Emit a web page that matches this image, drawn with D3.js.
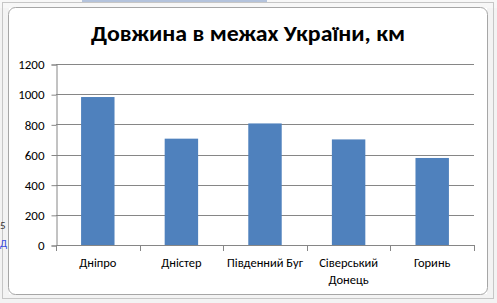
<!DOCTYPE html>
<html>
<head>
<meta charset="utf-8">
<script src="https://cdn.jsdelivr.net/npm/d3@7"></script>
<style>
  body { margin: 0; background: #fff; }
  svg { display: block; }
  .tick text { font-family: Carlito, Calibri, Lato, sans-serif; }
</style>
</head>
<body>
<svg id="chart" width="497" height="303"></svg>
<script>
// data
const categories = ["Дніпро", "Дністер", "Південний Буг", "Сіверський Донець", "Горинь"];
const categoryLines = [["Дніпро"], ["Дністер"], ["Південний Буг"], ["Сіверський", "Донець"], ["Горинь"]];
const lengths = [981, 705, 806, 700, 577];
const yTicks = [0, 200, 400, 600, 800, 1000, 1200];
const title = "Довжина в межах України, км";

const width = 497, height = 303;
const margin = { top: 64, right: 23, bottom: 58, left: 56 };

const svg = d3.select("#chart");

// spreadsheet behind the chart
const sheet = svg.append("g");
sheet.append("rect").attr("x", 0).attr("y", 0).attr("width", 9).attr("height", height).attr("fill", "#f3f3f3");
sheet.append("rect").attr("x", 487).attr("y", 0).attr("width", 10).attr("height", height).attr("fill", "#f3f3f3");
sheet.append("rect").attr("x", 0).attr("y", 294).attr("width", width).attr("height", 9).attr("fill", "#f3f3f3");
sheet.append("rect").attr("x", 0).attr("y", 0).attr("width", width).attr("height", 8).attr("fill", "#f7f7f7");
sheet.append("rect").attr("x", 82).attr("y", 0).attr("width", 185).attr("height", 2).attr("fill", "#b4c3dc");
sheet.append("rect")
  .attr("x", 2.5).attr("y", 2.5).attr("width", 491).attr("height", 296)
  .attr("fill", "none").attr("stroke", "#c6c6c6");
sheet.append("text").attr("x", 0).attr("y", 229).attr("font-family", "Carlito, Calibri, Lato, sans-serif")
  .attr("font-size", 11).attr("fill", "#333").text("5");
sheet.append("text").attr("x", 0).attr("y", 247).attr("font-family", "Carlito, Calibri, Lato, sans-serif")
  .attr("font-size", 11).attr("fill", "#3a4ee0").attr("text-decoration", "underline").text("Д");

// chart area
svg.append("rect")
  .attr("x", 8.5).attr("y", 7.5).attr("width", 479).attr("height", 287).attr("rx", 7)
  .attr("fill", "#fff").attr("stroke", "#a6a6a6");

// title
svg.append("text")
  .attr("x", 248).attr("y", 41)
  .attr("text-anchor", "middle")
  .attr("font-family", "Carlito, Calibri, Lato, sans-serif")
  .attr("font-weight", "bold")
  .attr("font-size", 23)
  .attr("textLength", 314)
  .attr("lengthAdjust", "spacingAndGlyphs")
  .text(title);

// scales
const x = d3.scaleBand()
  .domain(categories)
  .range([margin.left, width - margin.right])
  .paddingInner(0.6)
  .paddingOuter(0.3);

const y = d3.scaleLinear()
  .domain([0, 1200])
  .range([height - margin.bottom, margin.top]);

// gridlines
svg.append("g")
  .selectAll("line")
  .data(yTicks.filter(d => d > 0))
  .join("line")
  .attr("x1", margin.left).attr("x2", width - margin.right)
  .attr("y1", d => Math.round(y(d)) + 0.5).attr("y2", d => Math.round(y(d)) + 0.5)
  .attr("stroke", "#868686");

// bars
svg.append("g")
  .selectAll("rect")
  .data(lengths)
  .join("rect")
  .attr("x", (d, i) => x(categories[i]))
  .attr("width", x.bandwidth())
  .attr("y", d => y(d))
  .attr("height", d => y(0) - y(d))
  .attr("fill", "#4f81bd");

// y axis
const yAxis = g => g
  .attr("transform", "translate(" + (margin.left + 0.5) + ", 0.5)")
  .call(d3.axisLeft(y).tickValues(yTicks).tickSize(5).tickPadding(7).tickFormat(d3.format("d")))
  .call(g => g.selectAll(".domain").attr("stroke", "#868686"))
  .call(g => g.selectAll(".tick line").attr("stroke", "#868686"))
  .call(g => g.selectAll(".tick text").attr("font-size", 13).attr("fill", "#000"));
svg.append("g").call(yAxis);

// x axis with ticks at category boundaries
const boundaries = d3.range(categories.length + 1).map(i => margin.left + i * (width - margin.left - margin.right) / categories.length);
const xg = svg.append("g");
xg.append("line")
  .attr("x1", margin.left).attr("x2", width - margin.right)
  .attr("y1", Math.round(y(0)) + 0.5).attr("y2", Math.round(y(0)) + 0.5)
  .attr("stroke", "#868686");
xg.selectAll(".bt")
  .data(boundaries)
  .join("line")
  .attr("class", "bt")
  .attr("x1", d => Math.round(d) + 0.5).attr("x2", d => Math.round(d) + 0.5)
  .attr("y1", Math.round(y(0))).attr("y2", Math.round(y(0)) + 6)
  .attr("stroke", "#868686");

const labels = xg.selectAll(".lab")
  .data(categoryLines)
  .join("text")
  .attr("class", "lab")
  .attr("text-anchor", "middle")
  .attr("font-family", "Carlito, Calibri, Lato, sans-serif")
  .attr("font-size", 12.5)
  .attr("fill", "#000");
labels.selectAll("tspan")
  .data((d, i) => d.map(t => ({ t, i })))
  .join("tspan")
  .attr("x", d => x(categories[d.i]) + x.bandwidth() / 2)
  .attr("y", (d, j) => 267 + j * 17)
  .text(d => d.t);
</script>
</body>
</html>
